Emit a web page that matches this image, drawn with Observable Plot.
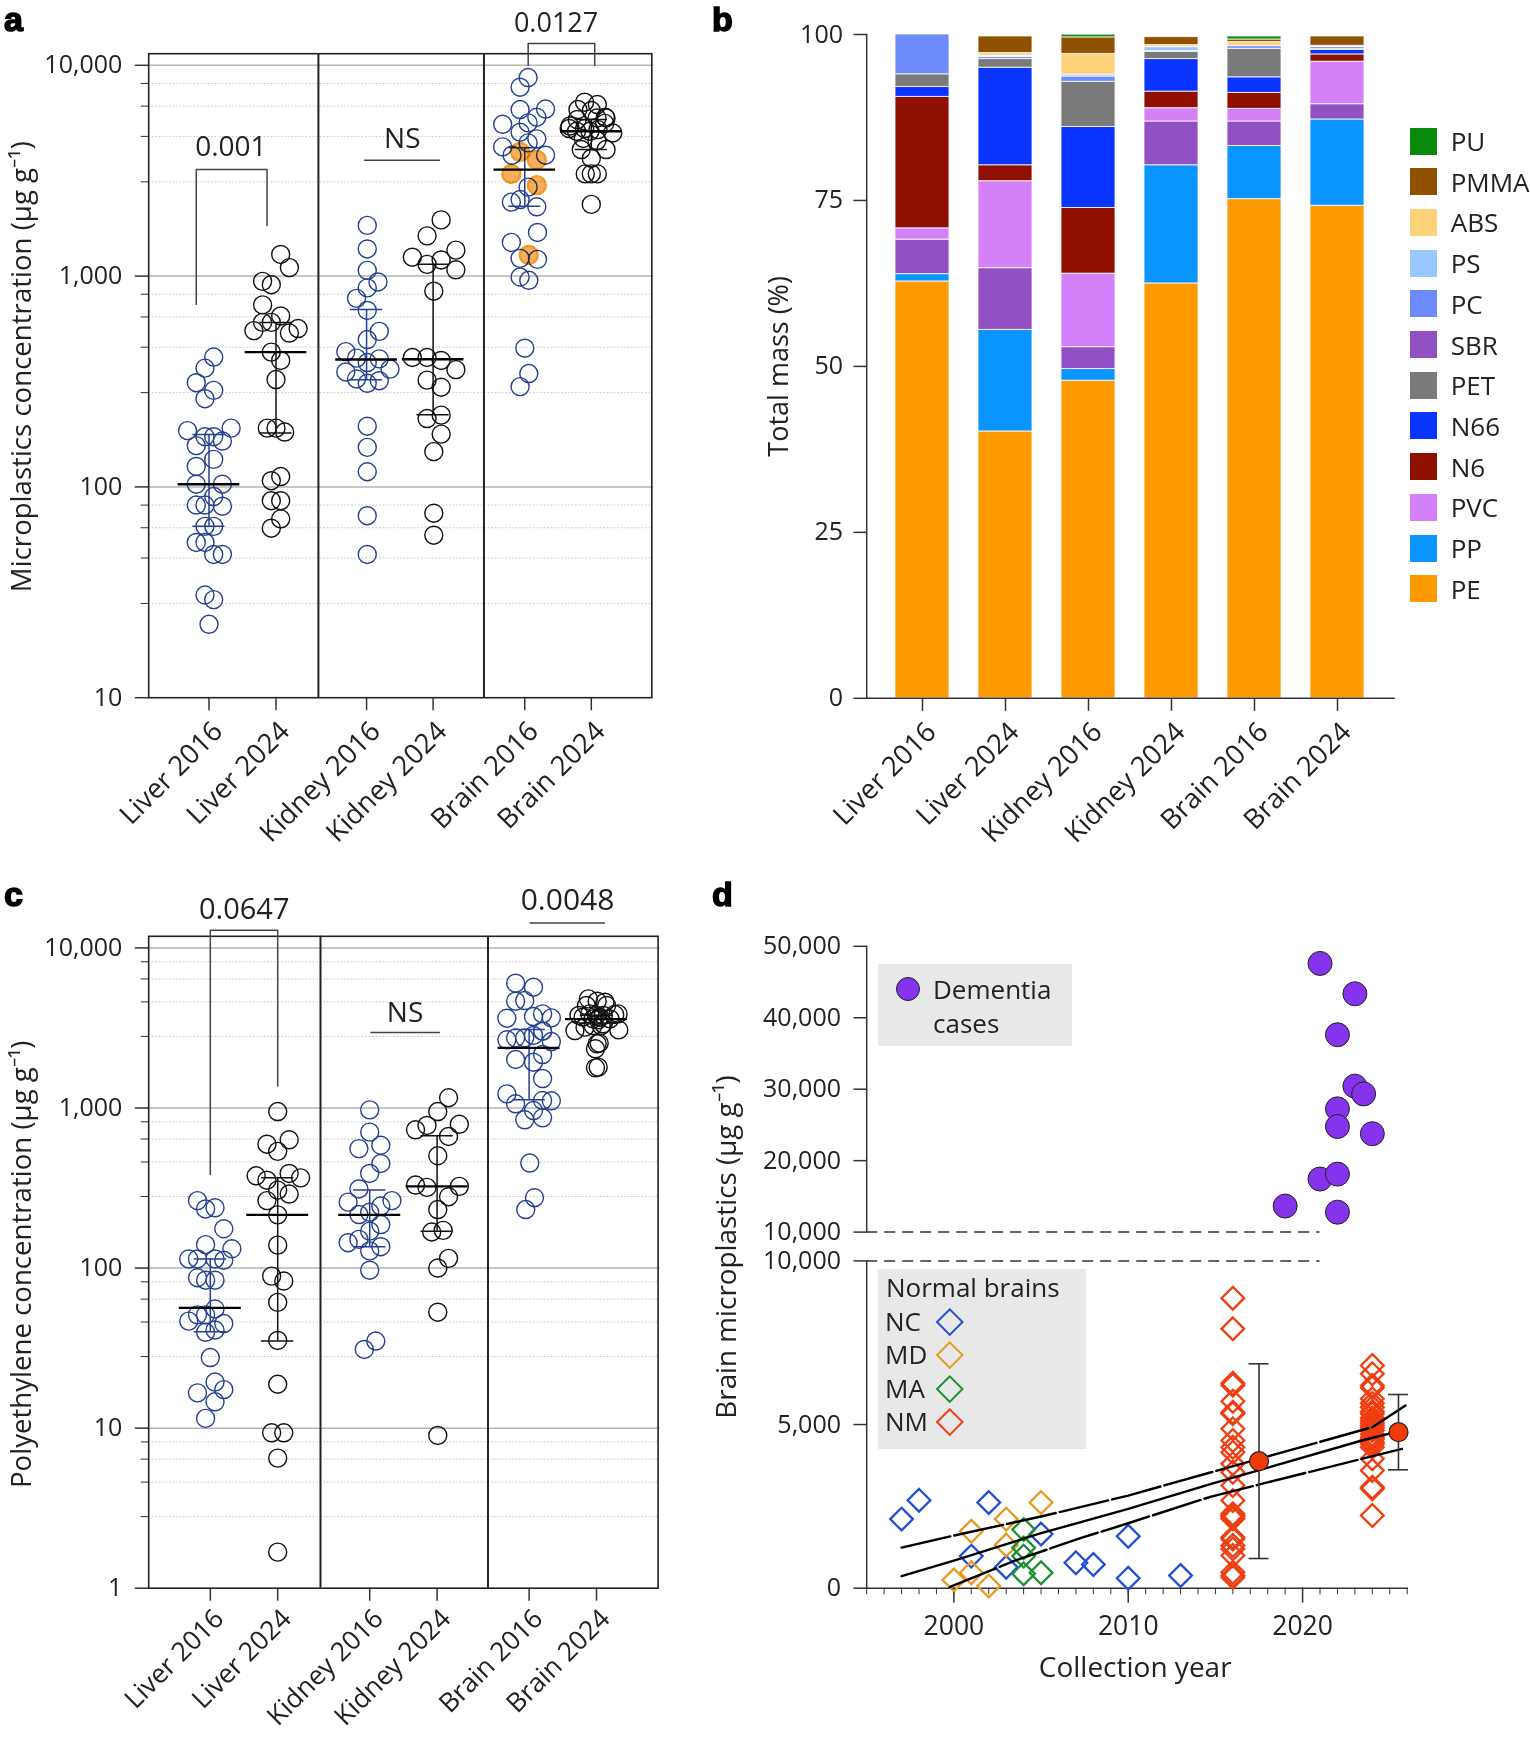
<!DOCTYPE html>
<html>
<head>
<meta charset="utf-8">
<script src="https://cdn.jsdelivr.net/npm/d3@7"></script>
<script src="https://cdn.jsdelivr.net/npm/@observablehq/plot@0.6"></script>
<style>
  body { margin: 0; background: white; font-family: "Open Sans", sans-serif; color: #222; }
  #page { position: relative; width: 1530px; height: 1737px; overflow: hidden; }
  #page > * { position: absolute; }
  .letter { font-family: "Liberation Sans"; font-weight: 700; font-size: 34px; line-height: normal; color: #000; -webkit-text-stroke: 1.5px #000; }
  .txt { font-size: 26px; line-height: 30px; white-space: nowrap; }
  .box { background: #e8e8e8; }
  .swatch { width: 27px; height: 27px; }
  .diamond { width: 19.5px; height: 19.5px; border: 2.3px solid; transform: rotate(45deg); box-sizing: border-box; }
</style>
</head>
<body>
<div id="page"></div>
<script>
// ---- panels a and c : categories
const tissues = ["Liver 2016", "Liver 2024", "Kidney 2016", "Kidney 2024", "Brain 2016", "Brain 2024"]
const blue = "#24408e"
const black = "#111"
const groupColors = [blue, black, blue, black, blue, black]

// ---- panel a : microplastics concentration, jitter is in column widths
const aLiver16 = [413,366,312,287,262,185,190,173,173,165,157,135,125,103,103,90,82,82,81,65,65,54.5,54.5,47.8,47.8,30.7,29.2,22.3]
const aLiver16J = [.07,-.06,-.19,.07,-.06,-.32,.33,-.06,.07,.2,-.19,.07,-.19,-.19,.2,.07,-.19,-.06,.2,-.06,.07,-.19,-.06,.07,.2,-.06,.07,0]
const aLiver24 = [1267,1097,944,910,730,647,603,603,551,564,537,436,398,323,190,190,182,112,107,86,86,70.5,63.7]
const aLiver24J = [.07,.2,-.2,-.07,-.2,.07,-.2,-.07,-.33,.33,.2,-.07,.07,0,-.13,0,.13,.07,-.07,.07,-.07,.07,-.07]
const aKidney16 = [1740,1345,1064,938,879,784,687,547,500,438,408,405,389,351,362,325,319,310,194,154,118,73,47.8]
const aKidney16J = [.01,.01,.01,.17,.01,-.15,.01,.19,.01,-.31,-.15,.19,.01,-.31,.35,-.15,.19,.01,.01,.01,.01,.01,.01]
const aKidney24 = [1847,1552,1328,1229,1193,1137,1071,848,411,411,398,360,321,297,211,219,178,147,75,59]
const aKidney24J = [.12,-.09,.34,-.31,.12,-.09,.34,.01,-.31,-.09,.12,.34,-.09,.12,-.09,.12,.12,.01,.01,.01]
const aBrain16 = [8750,7870,6166,6200,5670,5250,5330,4815,4477,4285,4100,3745,3745,2642,2308,2244,2132,1611,1445,1200,1214,990,955,455,345,299]
const aBrain16J = [.05,-.07,-.07,.31,.18,-.33,.05,-.07,.18,.05,-.33,-.19,.31,.05,-.07,-.2,.18,.19,-.2,.19,-.07,-.07,.06,0,.06,-.07]
const aBrain16Orange = [3882,3558,3054,2700,1259]
const aBrain16OrangeJ = [-.07,.18,-.2,.18,.06]
const aBrain24 = [6683,6514,6166,6100,5670,5623,5530,5012,5012,5623,4775,4864,4864,4955,4498,4395,3985,3985,3614,3054,3054,3054,2188,5300,5150]
const aBrain24J = [-.1,.09,-.2,0,.21,.085,-.21,-.33,-.1,.22,.32,-.22,-.02,.1,-.12,.085,-.15,.22,0,-.09,0,.09,0,.2,-.32]
const aMedian = [103,436,402,403,3200,4864]
const aLower = [65,180,322,220,2146,3985]
const aUpper = [177,603,695,1137,4060,5530]

// ---- panel c : polyethylene concentration
const cLiver16 = [264,234,238,176,140,132,114,114,114,112,87,84,84,55.5,51,51,46.6,45,39.7,41,27.6,19.4,17.4,16.6,14.6,11.5]
const cLiver16J = [-.19,-.07,.07,.2,-.07,.32,-.32,-.19,.07,.2,-.19,-.07,.07,.07,-.19,-.07,-.32,.2,-.07,.07,0,.07,.2,-.19,.07,-.07]
const cLiver24 = [950,633,594,536,377,354,390,366,307,290,264,215,139,89,83,61,35.3,18.8,9.35,9.35,6.5,1.68]
const cLiver24J = [0,.17,-.16,0,-.32,-.16,.17,.34,0,.17,-.16,0,0,-.09,.09,0,0,0,-.09,.09,0,0]
const cKidney16 = [973,707,585,557,450,390,312,258,264,244,216,223,187,170,144,151,128,136,97,35,31]
const cKidney16J = [0,0,.165,-.16,.165,0,-.16,-.32,.33,.165,-.16,0,.165,0,-.32,-.16,0,.165,0,.09,-.08]
const cKidney24 = [1159,950,791,778,731,664,503,232,330,319,324,279,168,172,115,100,53,9]
const cKidney24J = [.17,.01,.33,-.15,-.32,.17,.01,.01,-.32,-.15,.33,.17,-.08,.09,.17,.01,.01,.01]
const cBrain16 = [6020,5680,4645,4690,3637,3726,3873,3658,3020,2667,2742,2742,2838,3020,2600,2009,1932,2158,1528,1225,1062,1109,1114,964,844,868,453,275,232]
const cBrain16J = [-.2,.065,-.2,-.065,-.33,.065,.2,.33,.2,-.33,-.2,-.065,.065,.2,.33,-.2,.065,.2,.2,-.33,-.2,.33,.2,.065,-.065,.2,.01,.08,-.05]
const cBrain24 = [4805,4645,4581,4365,4365,3784,3837,3873,3873,3784,3784,3690,3606,3690,3606,3048,3199,3275,3357,3076,3555,3275,2517,2541,2344,1798,1782]
const cBrain24J = [-.12,.01,.125,-.15,.15,-.26,.27,.32,-.1,0,.1,-.2,-.05,.05,.2,-.32,-.17,-.05,.1,.33,.025,.07,.01,.04,-.015,.025,-.015]
const cMedian = [56.4,215,215,324,2376,3590]
const cLower = [40,35,136,170,1125,3400]
const cUpper = [114,366,307,670,3090,3800]

// ---- panel b : share of total mass by polymer, bottom of the stack first
const polymers = ["PE","PP","PVC","N6","N66","PET","SBR","PC","PS","ABS","PMMA","PU"]
const legendOrder = ["PU","PMMA","ABS","PS","PC","SBR","PET","N66","N6","PVC","PP","PE"]
const polymerColors = {PE:"#fd9a00",PP:"#0a94ff",PVC:"#d480f8",N6:"#901000",N66:"#0a34ff",PET:"#7a7a7a",SBR:"#9250c5",PC:"#6e8bfb",PS:"#99c8ff",ABS:"#fdd27a",PMMA:"#8f5000",PU:"#0a8a0a"}
const stackOrder = ["PE","PP","SBR","PVC","N6","N66","PET","PC","PS","ABS","PMMA","PU"]
const massPE   = [62.8,40.2,47.85,62.5,75.2,74.2]
const massPP   = [1.1,15.3,1.75,17.8,8,13]
const massSBR  = [5.2,9.3,3.3,6.6,3.7,2.3]
const massPVC  = [1.7,13.1,11.07,2,1.9,6.4]
const massN6   = [19.8,2.4,9.9,2.5,2.4,1.1]
const massN66  = [1.5,14.7,12.2,4.9,2.35,.7]
const massPET  = [1.9,1.3,6.8,1.1,4.3,.1]
const massPC   = [6,.3,.8,.1,.4,.3]
const massPS   = [0,.2,.3,.6,0,0]
const massABS  = [0,.4,3.1,.3,.6,.2]
const massPMMA = [0,2.5,2.5,1.2,.4,1.4]
const massPU   = [0,0,.4,0,.45,0]
const massByPolymer = {PE:massPE,PP:massPP,SBR:massSBR,PVC:massPVC,N6:massN6,N66:massN66,PET:massPET,PC:massPC,PS:massPS,ABS:massABS,PMMA:massPMMA,PU:massPU}

// ---- panel d : brain microplastics by collection year
const dementiaYear = [2019,2021,2021,2022,2022,2022,2022,2022,2023,2023,2023.5,2024]
const dementiaConc = [13640,47600,17430,37620,27250,24780,18120,12790,43350,30430,29340,23770]
const ncYear = [1997,1998,2002,2001,2003,2005,2007,2008,2010,2010,2013]
const ncConc = [2111,2686,2618,980,642,1655,777,726,1588,304,389]
const mdYear = [2000,2001,2001,2002,2003,2003,2005]
const mdConc = [253,1740,473,68,2111,1318,2618]
const maYear = [2004,2004,2004,2004,2005]
const maConc = [1790,1233,980,439,473]
const nm2016 = [8861,7925,6263,6200,5713,5377,5328,4870,4513,4308,4155,3800,3544,3138,2680,2273,2220,2180,2120,1558,1500,1305,1200,999,489,388,336]
const nm2024 = [6804,6550,6193,6123,5787,5650,5530,5400,5328,5200,5124,5050,4971,4900,4818,4700,4613,4550,4461,4400,4308,3954,3596,3086,3037,2221]
const meanYear = [2017.5,2025.5]
const meanConc = [3880,4766]
const meanHigh = [6856,5918]
const meanLow = [907,3617]
const bandLowYear = [1999.75,2003.5,2007.3,2010,2014.76,2025.7]
const bandLow = [30,845,1537,1985,2800,4259]
const bandTopYear = [1997,2000,2005,2010,2014.76,2024,2025.9]
const bandTop = [1242,1608,2190,2830,3543,4920,5582]
const fitYear = [1997,2000,2005,2010,2014.76,2023.4,2025.5]
const fitConc = [366,845,1680,2423,3186,4513,4790]

const page = document.getElementById("page")
const baseStyle = {fontFamily: "Open Sans", fontSize: "25px", overflow: "visible", background: "transparent", maxWidth: "none", color: "#222"}

function place(el, left, top) {
  el.style.left = left + "px"
  el.style.top = top + "px"
  page.append(el)
  return el
}

function addHtml(cls, html, left, top) {
  const d = document.createElement("div")
  d.className = cls
  d.innerHTML = html
  return place(d, left, top)
}

// rows of one swarm column
const rows = (vals, jit, center) => vals.map((v, i) => ({x: center + jit[i], y: v}))
// log ticks: decades and the 2.8 / 4.6 / 6.4 / 8.2 minor ticks
const minorSteps = [2.8, 4.6, 6.4, 8.2]

function swarmPanel(o) {
  const minor = o.majors.slice(0, -1).flatMap(m => minorSteps.map(s => m * s))
  const nameAt = new Map(o.pos.map((p, i) => [p, tissues[i]]))
  return Plot.plot({
    width: 700, height: o.height,
    marginLeft: 148.2, marginRight: o.marginRight, marginTop: o.marginTop, marginBottom: o.marginBottom,
    x: {domain: o.xDomain, label: null},
    y: {type: "log", domain: o.yDomain, label: null},
    style: baseStyle,
    marks: [
      Plot.ruleY(minor, {stroke: "#c4c4c4", strokeDasharray: "1.5 2", strokeWidth: 1}),
      Plot.ruleY(o.majors.slice(1), {stroke: "#b5b5b5", strokeWidth: 1.5, insetRight: -2}),
      Plot.axisY({ticks: o.majors, tickFormat: d3.format(","), tickSize: 13.4, tickPadding: 13, label: null, stroke: "#333", strokeWidth: 1.5}),
      Plot.axisY({ticks: minor, tickFormat: () => "", tickSize: 7.5, label: null, stroke: "#333"}),
      // tick marks and the tilted names are two axes, the names sit a bit off the tick
      Plot.axisX({ticks: o.pos, tickFormat: () => "", tickSize: 13, label: null, stroke: "#333", strokeWidth: 1.5}),
      Plot.axisX({ticks: o.pos, tickFormat: d => nameAt.get(d), tickSize: 0, tickPadding: 23, tickRotate: -45, dx: 9, dy: o.nameDy, fontSize: o.nameSize, label: null}),
      Plot.ruleX(o.dividers, {stroke: "#222", strokeWidth: 2}),
      Plot.frame({stroke: "#222", strokeWidth: 1.6}),
      // one mark set for each column
      ...o.columns.flatMap((c, i) => [
        Plot.dot(rows(c[0], c[1], o.pos[i]), {x: "x", y: "y", r: 9, stroke: groupColors[i], strokeWidth: 1.4, fill: "none"}),
        Plot.ruleX([0], {x: () => o.pos[i], y1: () => o.lower[i], y2: () => o.upper[i], stroke: groupColors[i], strokeWidth: 1.5}),
        Plot.ruleY([o.lower[i], o.upper[i]], {x1: o.pos[i] - .24, x2: o.pos[i] + .24, stroke: groupColors[i], strokeWidth: 1.5}),
        Plot.ruleY([o.median[i]], {x1: o.pos[i] - .46, x2: o.pos[i] + .46, stroke: "#000", strokeWidth: 2.4})
      ]),
      ...o.extra,
      Plot.text([o.yLabel], {frameAnchor: "left", textAnchor: "middle", dx: -127, dy: o.labelDy, rotate: -90, fontSize: 27.6, fill: "#222"})
    ]
  })
}

// brackets and p values, in data units
const bracket = (xs, ys) => Plot.line(xs.map((x, i) => ({x, y: ys[i]})), {x: "x", y: "y", stroke: "#444", strokeWidth: 1.5})
const note = (t, x, y, size) => Plot.text([t], {x: () => x, y: () => y, fontSize: size, fill: "#222"})

const aPos = [0, 1, 2.352, 3.345, 4.713, 5.706]
const chartA = swarmPanel({
  height: 860, marginRight: 48.7, marginTop: 53.2, marginBottom: 162.8,
  xDomain: [-.9, 6.609], yDomain: [10, 11350], pos: aPos, majors: [10, 100, 1000, 10000],
  dividers: [1.633, 4.104], nameSize: 27.5, nameDy: 6,
  columns: [[aLiver16, aLiver16J], [aLiver24, aLiver24J], [aKidney16, aKidney16J], [aKidney24, aKidney24J], [aBrain16, aBrain16J], [aBrain24, aBrain24J]],
  median: aMedian, lower: aLower, upper: aUpper,
  extra: [
    Plot.dot(rows(aBrain16Orange, aBrain16OrangeJ, aPos[4]), {x: "x", y: "y", r: 9, fill: "#f5ae5a", stroke: "#ee9a30", strokeWidth: 2.4, mixBlendMode: "multiply"}),
    bracket([-.19, -.19, .866, .866], [733, 3200, 3200, 1740]),
    note("0.001", .327, 4100, 28),
    bracket([2.32, 3.44], [3548, 3548]),
    note("NS", 2.885, 4458, 28),
    bracket([4.764, 4.764, 5.757, 5.757], [10000, 12700, 12700, 10000]),
    note("0.0127", 5.18, 15850, 27)
  ],
  yLabel: "Microplastics concentration (µg g⁻¹)", labelDy: -9
})

const cPos = [0, 1, 2.365, 3.365, 4.73, 5.73]
const chartC = swarmPanel({
  height: 867, marginRight: 42.4, marginTop: 65.8, marginBottom: 149.3,
  xDomain: [-.914, 6.644], yDomain: [1, 11820], pos: cPos, majors: [1, 10, 100, 1000, 10000],
  dividers: [1.635, 4.12], nameSize: 26.5, nameDy: 3,
  columns: [[cLiver16, cLiver16J], [cLiver24, cLiver24J], [cKidney16, cKidney16J], [cKidney24, cKidney24J], [cBrain16, cBrain16J], [cBrain24, cBrain24J]],
  median: cMedian, lower: cLower, upper: cUpper,
  extra: [
    bracket([0, 0, 1, 1], [384, 12900, 12900, 1370]),
    note("0.0647", .504, 17300, 29),
    bracket([2.384, 3.398], [2960, 2960]),
    note("NS", 2.889, 3910, 28),
    bracket([4.743, 5.848], [14300, 14300]),
    note("0.0048", 5.3, 19680, 30)
  ],
  yLabel: "Polyethylene concentration (µg g⁻¹)", labelDy: 2
})

// panel b, long table from the polymer arrays
const massRows = stackOrder.flatMap(p => tissues.map((t, i) => ({tissue: t, polymer: p, pct: massByPolymer[p][i]})))
const chartB = Plot.plot({
  width: 700, height: 860,
  marginLeft: 166.2, marginRight: 6.5, marginTop: 34, marginBottom: 162.2,
  x: {domain: tissues, padding: .352, label: null},
  y: {domain: [0, 100], label: null},
  color: {domain: polymers, range: polymers.map(p => polymerColors[p])},
  style: baseStyle,
  marks: [
    Plot.barY(massRows, {x: "tissue", y: "pct", fill: "polymer", stroke: "white", strokeOpacity: .8, strokeWidth: 1}),
    Plot.axisY({ticks: [0, 25, 50, 75, 100], tickSize: 12.7, tickPadding: 11, label: null, stroke: "#333", strokeWidth: 1.5}),
    Plot.axisX({tickFormat: () => "", tickSize: 13, label: null, stroke: "#333", strokeWidth: 1.5}),
    Plot.axisX({tickSize: 0, tickPadding: 23, tickRotate: -45, dx: 9, dy: 6, fontSize: 27.5, label: null}),
    Plot.frame({anchor: "left", stroke: "#333", strokeWidth: 1.5}),
    Plot.frame({anchor: "bottom", stroke: "#333", strokeWidth: 1.5}),
    Plot.text(["Total mass (%)"], {frameAnchor: "left", textAnchor: "middle", dx: -87, rotate: -90, fontSize: 27, fill: "#222"})
  ]
})

// panel d is two plots on top of each other, broken at 10,000
const dashRule = Plot.ruleY([10000], {x1: 1995, x2: 2021, stroke: "#333", strokeWidth: 1.5, strokeDasharray: "11 7"})
const chartDTop = Plot.plot({
  width: 830, height: 315,
  marginLeft: 166.2, marginRight: 123.3, marginTop: 15.8, marginBottom: 13.4,
  x: {domain: [1995, 2026], axis: null},
  y: {domain: [10000, 50000], label: null},
  style: baseStyle,
  marks: [
    Plot.axisY({ticks: [10000, 20000, 30000, 40000, 50000], tickFormat: d3.format(","), tickSize: 12.7, tickPadding: 13, label: null, stroke: "#333", strokeWidth: 1.5}),
    Plot.frame({anchor: "left", stroke: "#333", strokeWidth: 1.5}),
    dashRule,
    Plot.dot(dementiaConc, {x: dementiaYear, y: dementiaConc, r: 12, fill: "#8633ee", stroke: "#222", strokeWidth: 1})
  ]
})

const diamonds = (xs, ys, color) => Plot.dot(ys, {x: xs, y: ys, symbol: "diamond2", r: 10.2, stroke: color, strokeWidth: 2.3, fill: "none"})
const chartDBottom = Plot.plot({
  width: 830, height: 492,
  marginLeft: 166.2, marginRight: 123.3, marginTop: 15.4, marginBottom: 149.3,
  x: {domain: [1995, 2026], label: null},
  y: {domain: [0, 10000], label: null},
  style: baseStyle,
  marks: [
    Plot.axisY({ticks: [0, 5000, 10000], tickFormat: d3.format(","), tickSize: 12.7, tickPadding: 13, label: null, stroke: "#333", strokeWidth: 1.5}),
    Plot.axisX({ticks: [2000, 2010, 2020], tickFormat: d => String(d), tickSize: 15, tickPadding: 13, fontSize: 26.5, label: null, stroke: "#333", strokeWidth: 1.5}),
    Plot.axisX({ticks: d3.range(1995, 2027), tickFormat: () => "", tickSize: 6.6, label: null, stroke: "#333"}),
    Plot.frame({anchor: "left", stroke: "#333", strokeWidth: 1.5}),
    Plot.frame({anchor: "bottom", stroke: "#333", strokeWidth: 1.5}),
    dashRule,
    diamonds(ncYear, ncConc, "#2050d0"),
    diamonds(mdYear, mdConc, "#e69a20"),
    diamonds(maYear, maConc, "#1a9030"),
    diamonds(nm2016.map(() => 2016), nm2016, "#ef3f12"),
    diamonds(nm2024.map(() => 2024), nm2024, "#ef3f12"),
    Plot.line(bandTop, {x: bandTopYear, y: bandTop, stroke: "#000", strokeWidth: 2.4, strokeDasharray: "50 4"}),
    Plot.line(fitConc, {x: fitYear, y: fitConc, stroke: "#000", strokeWidth: 2.4}),
    Plot.line(bandLow, {x: bandLowYear, y: bandLow, stroke: "#000", strokeWidth: 2.4, strokeDasharray: "50 4"}),
    Plot.ruleX(meanYear, {y1: meanLow, y2: meanHigh, stroke: "#333", strokeWidth: 1.6}),
    Plot.ruleY(meanHigh, {x1: meanYear.map(d => d - .57), x2: meanYear.map(d => d + .57), stroke: "#333", strokeWidth: 1.6}),
    Plot.ruleY(meanLow, {x1: meanYear.map(d => d - .57), x2: meanYear.map(d => d + .57), stroke: "#333", strokeWidth: 1.6}),
    Plot.dot(meanConc, {x: meanYear, y: meanConc, r: 9.5, fill: "#f03a0a", stroke: "#222", strokeWidth: 1.2}),
    Plot.text(["Collection year"], {frameAnchor: "bottom", x: () => 2010.4, dy: 89, fontSize: 28, fill: "#222"}),
    Plot.text(["Brain microplastics (µg g⁻¹)"], {frameAnchor: "left", textAnchor: "middle", dx: -139.7, dy: -177.5, rotate: -90, fontSize: 27.8, fill: "#222"})
  ]
})

// grey legend boxes go under the plots
const box1 = addHtml("box", "", 877.9, 964); box1.style.width = "193.7px"; box1.style.height = "82px"
const box2 = addHtml("box", "", 877.9, 1269.2); box2.style.width = "208.5px"; box2.style.height = "180px"

place(chartA, 0, 0)
place(chartB, 700, 0)
place(chartC, 0, 870)
place(chartDTop, 700, 930)
place(chartDBottom, 700, 1245)

addHtml("letter", "a", 4, 0)
addHtml("letter", "b", 712, 0)
addHtml("letter", "c", 4, 875)
addHtml("letter", "d", 712, 875)

// polymer legend
legendOrder.forEach((p, i) => {
  const sw = addHtml("swatch", "", 1410.4, 127.5 + i * 40.7)
  sw.style.background = polymerColors[p]
  addHtml("txt", p, 1450.7, 126 + i * 40.7)
})

// panel d legends
const pd = addHtml("", "", 896, 977)
pd.style.cssText += "width:24px;height:24px;border-radius:50%;background:#8633ee;border:1px solid #222;box-sizing:border-box"
addHtml("txt", "Dementia", 933, 974)
addHtml("txt", "cases", 933, 1008)
addHtml("txt", "Normal brains", 886, 1272)
const normalNames = ["NC", "MD", "MA", "NM"]
const normalColors = ["#2050d0", "#e69a20", "#1a9030", "#ef3f12"]
normalNames.forEach((n, i) => {
  addHtml("txt", n, 885, 1306 + i * 33.4)
  const dm = addHtml("diamond", "", 940.2, 1312 + i * 33.4)
  dm.style.borderColor = normalColors[i]
})
</script>
</body>
</html>
